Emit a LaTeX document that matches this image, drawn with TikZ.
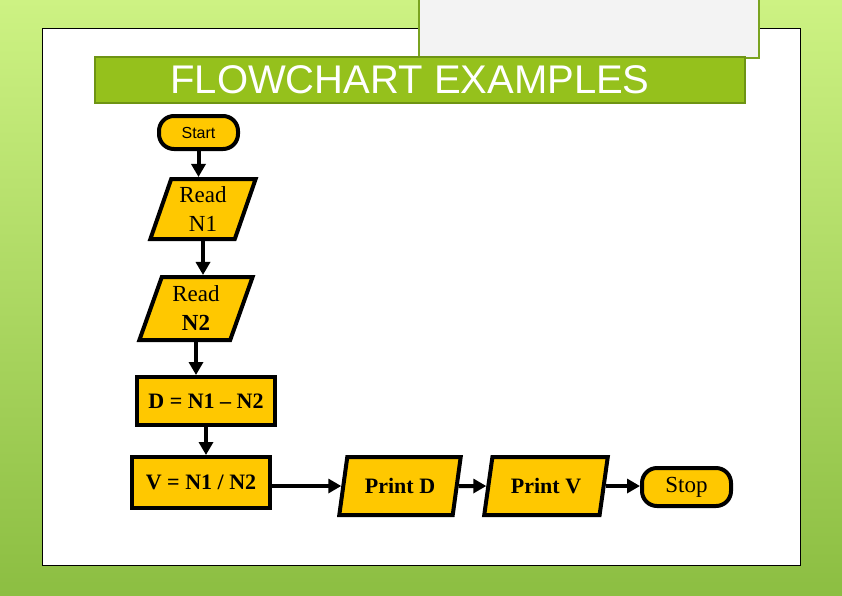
\documentclass[tikz,border=0pt]{standalone}
\usepackage{fontspec}
\setmainfont{Liberation Serif}
\newfontfamily\arial{Liberation Sans}
\usetikzlibrary{shapes.geometric,arrows.meta}
\definecolor{bgtop}{HTML}{CDF283}
\definecolor{bgbot}{HTML}{8CBE42}
\definecolor{shapefill}{HTML}{FFC800}
\definecolor{titlefill}{HTML}{95C11C}
\definecolor{titleline}{HTML}{6E9414}
\definecolor{greyfill}{HTML}{F3F3F3}
\definecolor{greyline}{HTML}{7AA320}
\tikzset{
  fcshape/.style={draw=black, line width=4pt, fill=shapefill, inner sep=0pt},
  terminal/.style={fcshape, rounded corners=15pt},
  procbox/.style={fcshape, rectangle},
  iobox/.style={fcshape, trapezium, trapezium left angle=71, trapezium right angle=109, trapezium stretches=true},
  flow/.style={line width=4pt, -{Triangle[length=13pt 0 0,width=14pt 0 0]}},
  serif/.style={font=\fontsize{23}{29}\selectfont, align=center},
  serifb/.style={font=\fontsize{22}{28}\selectfont\bfseries, align=center}
}
\begin{document}
\begin{tikzpicture}[x=1pt,y=-1pt]
\useasboundingbox (0,0) rectangle (842,595);
% background
\shade[top color=bgtop, bottom color=bgbot] (0,0) rectangle (842,595);
% white panel
\draw[fill=white, draw=black, line width=0.8pt] (42,28) rectangle (800,565);
% grey box
\draw[fill=greyfill, draw=greyline, line width=1.5pt] (419,-2) rectangle (759,58);
% title bar
\draw[fill=titlefill, draw=titleline, line width=2pt] (95,57) rectangle (745,103);
\node[text=white, font=\arial\fontsize{40}{44}\selectfont, inner sep=0pt] (title) at (410,80) {FLOWCHART EXAMPLES};
% nodes
\node[terminal, minimum width=79pt, minimum height=33pt, font=\arial\fontsize{16}{18}\selectfont] (start) at (198.5,132.5) {Start};
\node[iobox, minimum width=106pt, minimum height=60pt, serif] (r1) at (203,209) {Read\\N1};
\node[iobox, minimum width=114pt, minimum height=63pt, serif] (r2) at (196,308.5) {Read\\\textbf{N2}};
\node[procbox, minimum width=138pt, minimum height=48pt, serifb] (d) at (206,401) {D = N1 -- N2};
\node[procbox, minimum width=138pt, minimum height=51pt, serifb] (v) at (201,482.5) {V = N1 / N2};
\node[iobox, minimum width=122pt, minimum height=58pt, serifb] (pd) at (400,486) {Print D};
\node[iobox, minimum width=124pt, minimum height=58pt, serifb] (pv) at (546,486) {Print V};
\node[terminal, minimum width=89pt, minimum height=38pt, serif] (stop) at (686.5,487) {Stop};
% connectors
\draw[flow] (start.south) -- (start.south |- r1.north);
\draw[flow] (r1.south) -- (r1.south |- r2.north);
\draw[flow] (r2.south) -- (r2.south |- d.north);
\draw[flow] (d.south) -- (d.south |- v.north);
\draw[flow] (v.east |- pd.west) -- (pd.west);
\draw[flow] (pd.east) -- (pv.west);
\draw[flow] (pv.east) -- (pv.east -| stop.west);
\end{tikzpicture}
\end{document}
